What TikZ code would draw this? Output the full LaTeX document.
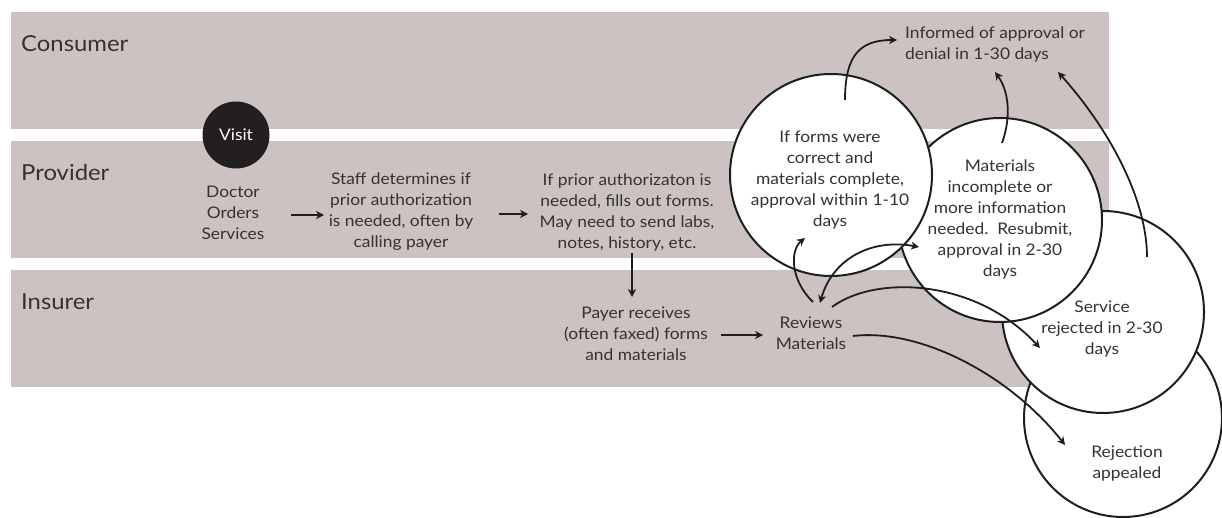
\documentclass[tikz,border=0pt]{standalone}
\usepackage{fontspec}
\setmainfont[FakeStretch=1.085]{Lato}
\usetikzlibrary{arrows.meta}
\definecolor{band}{HTML}{CDC2C2}
\definecolor{txt}{HTML}{333333}
\definecolor{ink}{HTML}{1E1E1E}
\definecolor{visitfill}{HTML}{231F20}
\begin{document}
\begin{tikzpicture}[x=1pt,y=-1pt,
  lane/.style={fill=band, draw=none},
  lanelabel/.style={anchor=base west, text=txt, font=\fontsize{22}{26}\selectfont, inner sep=0pt},
  body/.style={align=center, text=txt, font=\fontsize{16}{21}\selectfont, inner sep=0pt},
  bubble/.style={circle, draw=ink, line width=2pt, fill=white, inner sep=0pt},
  visitnode/.style={circle, fill=visitfill, text=white, minimum size=67pt, inner sep=0pt, font=\fontsize{16}{21}\selectfont},
  arr/.style={draw=ink, line width=1.8pt, -{Stealth[length=8pt,width=8pt,inset=2.5pt]}},
  darr/.style={draw=ink, line width=1.8pt, {Stealth[length=8pt,width=8pt,inset=2.5pt]}-{Stealth[length=8pt,width=8pt,inset=2.5pt]}}
]
\useasboundingbox (0,0) rectangle (1222,518);
% lanes
\fill[lane] (11,12) rectangle (1109,129);
\fill[lane] (11,141) rectangle (1109,258);
\fill[lane] (11,270) rectangle (1109,387);
\node[lanelabel] (consumer) at (21,52) {Consumer};
\node[lanelabel] (provider) at (21,181) {Provider};
\node[lanelabel] (insurer) at (21,309) {Insurer};
% visit
\node[visitnode] (visit) at (236,135) {Visit};
% process texts
\node[body] (dos) at (233,213) {Doctor\\Orders\\Services};
\node[body] (staff) at (401,212) {Staff determines if\\prior authorization\\is needed, often by\\calling payer};
\node[body] (prior) at (627,212) {If prior authorizaton is\\needed, fills out forms.\\May need to send labs,\\notes, history, etc.};
\node[body] (payer) at (636,334) {Payer receives\\(often faxed) forms\\and materials};
\node[body] (rev) at (811,333) {Reviews\\Materials};
\node[body, anchor=west, align=left] (inf) at (905,44) {Informed of approval or\\denial in 1-30 days};
% bubbles (bottom to top)
\node[bubble, minimum size=198pt] (c4) at (1123,418) {};
\node[bubble, minimum size=202pt] (c3) at (1103,312) {};
\node[bubble, minimum size=204pt] (c2) at (1000,220) {};
\node[bubble, minimum size=202pt] (c1) at (831,175) {};
\node[body] (t1) at (830,180) {If forms were\\correct and\\materials complete,\\approval within 1-10\\days};
\node[body] (t2) at (1000,219.5) {Materials\\incomplete or\\more information\\needed.\ \ Resubmit,\\approval in 2-30\\days};
\node[body] (t3) at (1102,329) {Service\\rejected in 2-30\\days};
\node[body] (t4) at (1127,464) {Rejection\\appealed};
% straight arrows
\coordinate (a1s) at (291,215);
\coordinate (a1e) at (324,215);
\coordinate (a2s) at (499,214);
\coordinate (a2e) at (528,214);
\coordinate (a3s) at (632,253);
\coordinate (a3e) at (632,297);
\coordinate (a4s) at (721,335);
\coordinate (a4e) at (763,335);
\draw[arr] (a1s) -- (a1e);
\draw[arr] (a2s) -- (a2e);
\draw[arr] (a3s) -- (a3e);
\draw[arr] (a4s) -- (a4e);
% curved arrows
\coordinate (pA) at (845,100);
\coordinate (pB) at (1002,143);
\coordinate (pC) at (1147,257);
\coordinate (iA) at (897,40);
\coordinate (iB) at (995,72);
\coordinate (iC) at (1058,72);
\draw[arr] (pA) .. controls (845,55) and (860,40) .. (iA);
\draw[arr] (pB) .. controls (1012,115) and (1008,90) .. (iB);
\draw[arr] (pC) .. controls (1147,200) and (1110,130) .. (iC);
\coordinate (rD) at (813,302);
\coordinate (eD) at (805,238);
\draw[arr] (rD) .. controls (790,280) and (790,250) .. (eD);
\coordinate (rF) at (820,303);
\coordinate (eF) at (919,247);
\draw[darr] (rF) .. controls (832,260) and (870,238) .. (eF);
\coordinate (rE) at (832,307);
\coordinate (eE) at (1040,348);
\draw[arr] (rE) .. controls (875,275) and (975,278) .. (eE);
\coordinate (rG) at (853,336);
\coordinate (eG) at (1065,445);
\draw[arr] (rG) .. controls (920,328) and (1010,375) .. (eG);
\end{tikzpicture}
\end{document}
